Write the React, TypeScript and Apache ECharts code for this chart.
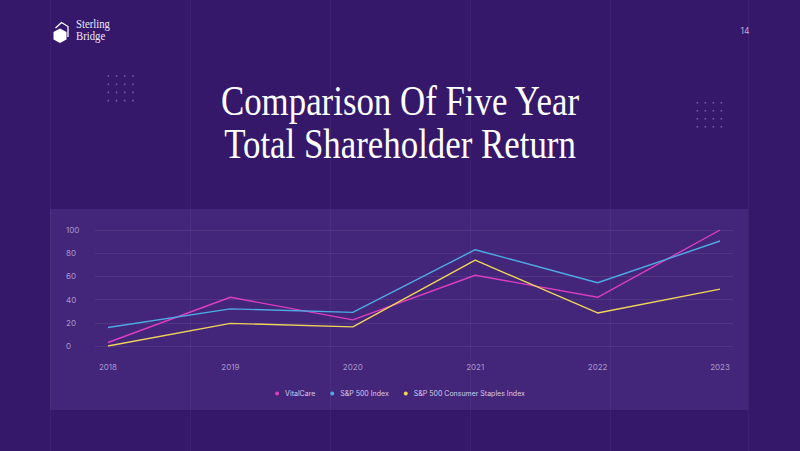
import React, { useEffect, useRef } from "react";
import * as echarts from "echarts";

const years = [2018, 2019, 2020, 2021, 2022, 2023];
const vitalCare = [3, 42, 22.5, 61, 42, 100];
const sp500 = [16, 32, 29, 83, 54.5, 90.5];
const consumerStaples = [0, 19.5, 16.5, 74, 28.5, 49];
const yTicks = [0, 20, 40, 60, 80, 100];

const seriesNames = ["VitalCare", "S&P 500 Index", "S&P 500 Consumer Staples Index"];
const seriesColors = ["#d93fbf", "#4fa9e3", "#efd45a"];

const titleLines = ["Comparison Of Five Year", "Total Shareholder Return"];

const BG = "#35186a";
const PANEL = "#43267a";

function dotGrid(x0: number, y0: number, step: number, n: number) {
  const dots: any[] = [];
  for (let r = 0; r < n; r++) {
    for (let c = 0; c < n; c++) {
      dots.push({
        type: "circle",
        shape: { cx: x0 + c * step, cy: y0 + r * step, r: 0.9 },
        style: { fill: "#6d55a3" },
        silent: true,
      });
    }
  }
  return dots;
}

export default function App() {
  const ref = useRef<HTMLDivElement>(null);

  useEffect(() => {
    if (!ref.current) return;
    const chart = echarts.init(ref.current, null, { renderer: "svg" });

    const pair = (vals: number[]) => years.map((y, i) => [y, vals[i]]);
    const datasets = [vitalCare, sp500, consumerStaples];

    const columnLines = [50, 190, 330, 470, 610, 748].map((x) => ({
      type: "line",
      shape: { x1: x + 0.5, y1: 0, x2: x + 0.5, y2: 451 },
      style: { stroke: "rgba(255,255,255,0.045)", lineWidth: 1 },
      silent: true,
      z: -9,
    }));

    chart.setOption({
      animation: false,
      backgroundColor: BG,
      graphic: [
        {
          type: "rect",
          shape: { x: 50, y: 209, width: 698, height: 201 },
          style: { fill: PANEL },
          silent: true,
          z: -10,
        },
        ...columnLines,
        ...dotGrid(108.3, 76, 8.2, 4),
        ...dotGrid(697.3, 102.7, 8, 4),
        // brand mark
        {
          type: "polygon",
          shape: {
            points: [
              [60, 28.5],
              [66.5, 32],
              [66.5, 39.5],
              [60, 43],
              [53.5, 39.5],
              [53.5, 32],
            ],
          },
          style: { fill: "#ffffff" },
          silent: true,
        },
        {
          type: "polyline",
          shape: {
            points: [
              [55.5, 28],
              [61.5, 22.5],
              [68, 26.5],
              [68, 37],
            ],
          },
          style: { stroke: "#ffffff", lineWidth: 1.3, fill: "none" },
          silent: true,
        },
        {
          type: "text",
          x: 76,
          y: 17.5,
          style: {
            text: "Sterling\nBridge",
            fill: "#ece6f7",
            font: "12.5px 'Liberation Serif', serif",
            lineHeight: 12.5,
          },
          scaleX: 0.86,
          silent: true,
        },
        {
          type: "text",
          x: 745,
          y: 31,
          style: {
            text: "14",
            fill: "#b9abd8",
            font: "8.5px Inter, sans-serif",
            align: "center",
            verticalAlign: "middle",
          },
          silent: true,
        },
        ...titleLines.map((t, i) => ({
          type: "text",
          x: 400,
          y: 101 + i * 43,
          scaleX: 0.83,
          style: {
            text: t,
            fill: "#ffffff",
            font: "42px 'Liberation Serif', serif",
            align: "center",
            verticalAlign: "middle",
          },
          silent: true,
        })),
      ],
      grid: { left: 95, right: 67, top: 230, bottom: 105, containLabel: false },
      xAxis: {
        type: "value",
        min: 2017.894,
        max: 2023.106,
        splitLine: { show: false },
        axisLine: { show: false },
        axisTick: { show: false },
        axisLabel: {
          customValues: years,
          color: "#a898cc",
          fontSize: 8,
          fontFamily: "Inter, sans-serif",
          margin: 17,
          formatter: (v: number) => String(Math.round(v)),
        },
      },
      yAxis: {
        type: "value",
        min: 0,
        max: 100,
        interval: 20,
        axisLine: { show: false },
        axisTick: { show: false },
        splitLine: { lineStyle: { color: "rgba(255,255,255,0.07)", width: 1 } },
        axisLabel: {
          customValues: yTicks,
          color: "#a898cc",
          fontSize: 8,
          fontFamily: "Inter, sans-serif",
          align: "left",
          margin: 29,
        },
      },
      legend: {
        bottom: 49,
        left: "center",
        icon: "circle",
        itemWidth: 4,
        itemHeight: 4,
        itemGap: 15,
        textStyle: { color: "#d5cbea", fontSize: 7, fontFamily: "Inter, sans-serif", padding: [0, 0, 0, 1] },
        data: seriesNames,
      },
      series: datasets.map((vals, i) => ({
        type: "line",
        name: seriesNames[i],
        data: pair(vals),
        symbol: "none",
        color: seriesColors[i],
        lineStyle: { width: 1.4, color: seriesColors[i] },
      })),
    });

    return () => chart.dispose();
  }, []);

  return (
    <div
      ref={ref}
      style={{ position: "fixed", left: 0, top: 0, width: 800, height: 451 }}
    />
  );
}
